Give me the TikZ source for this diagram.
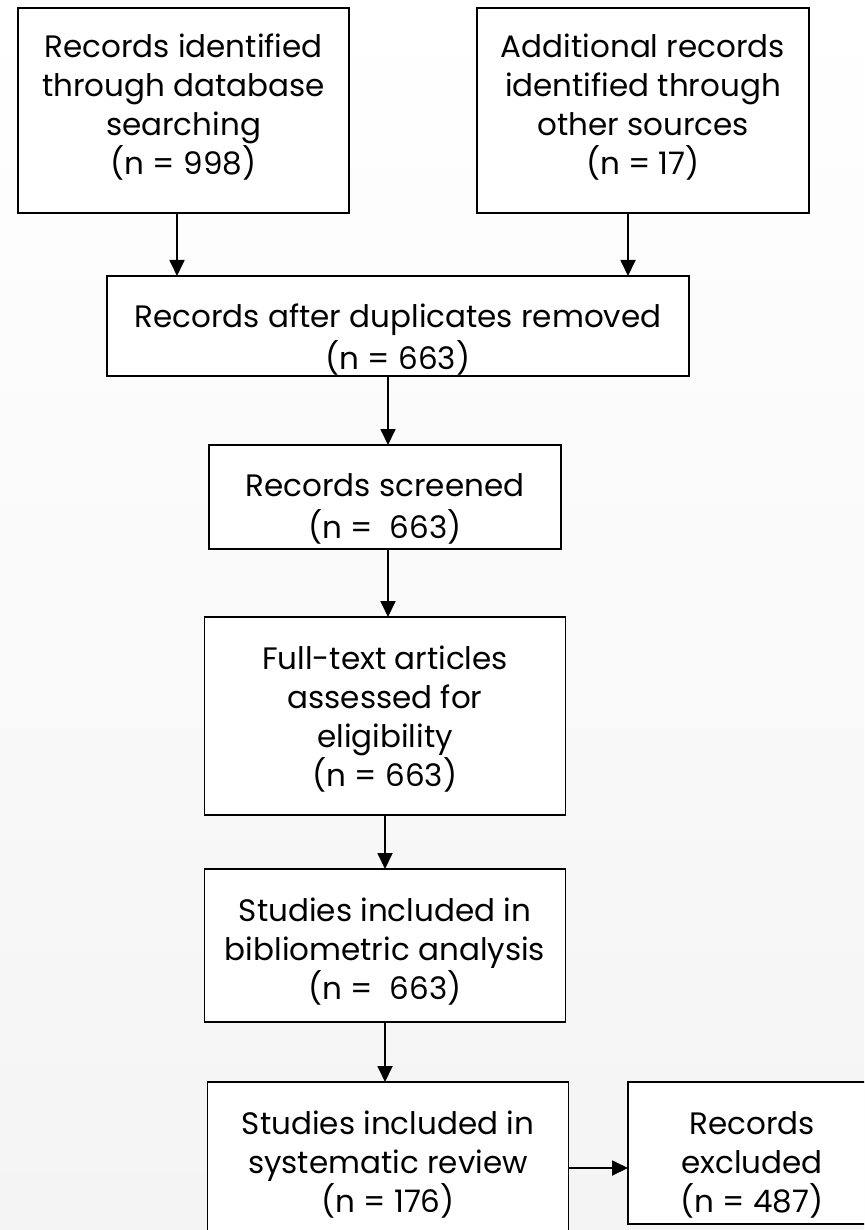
\documentclass[tikz,border=0pt]{standalone}
\usepackage{fontspec}
\setmainfont{Poppins}
\usetikzlibrary{arrows.meta,calc}
\definecolor{bgbot}{HTML}{F4F4F4}
\begin{document}
\begin{tikzpicture}[x=1pt,y=-1pt,
  box/.style={draw=black, line width=1.8pt, fill=white, inner sep=0pt, outer sep=0pt},
  txt/.style={anchor=north, inner sep=0pt, align=center,
    font=\fontsize{31}{39}\selectfont},
  arr/.style={line width=1.8pt, -{Triangle[length=16pt,width=15pt]}}]
\useasboundingbox (0,0) rectangle (864,1230);
\clip (0,0) rectangle (864,1230);
\shade[top color=white, bottom color=bgbot] (0,0) rectangle (864,1230);
\node[box, minimum width=331pt, minimum height=205pt] (A) at (183.5,110.5) {};
\node[txt] (At) at ([yshift=-22pt]A.north) {\strut Records identified\\through database\\searching\\(n = 998)};
\node[box, minimum width=332pt, minimum height=205pt] (B) at (643,110.5) {};
\node[txt] (Bt) at ([yshift=-22pt]B.north) {\strut Additional records\\identified through\\other sources\\(n = 17)};
\node[box, minimum width=582pt, minimum height=100pt] (C) at (398,326) {};
\node[txt] (Ct) at ([yshift=-24pt]C.north) {\strut Records after duplicates removed\\(n = 663)};
\node[box, minimum width=352pt, minimum height=104pt] (D) at (385,497) {};
\node[txt] (Dt) at ([yshift=-24pt]D.north) {\strut Records screened\\(n = \ 663)};
\node[box, minimum width=361pt, minimum height=198pt] (E) at (385,716) {};
\node[txt] (Et) at ([yshift=-25pt]E.north) {\strut Full-text articles\\assessed for\\eligibility\\(n = 663)};
\node[box, minimum width=361pt, minimum height=153pt] (F) at (385,945.5) {};
\node[txt] (Ft) at ([yshift=-25pt]F.north) {\strut Studies included in\\bibliometric analysis\\(n = \ 663)};
\node[box, minimum width=361pt, minimum height=158pt] (G) at (388,1161) {};
\node[txt] (Gt) at ([yshift=-25pt]G.north) {\strut Studies included in\\systematic review\\(n = 176)};
\node[box, minimum width=248pt, minimum height=142pt] (H) at (752,1153) {};
\node[txt] (Ht) at ([yshift=-25pt]H.north) {\strut Records\\excluded\\(n = 487)};
\draw[arr] ([xshift=-6.5pt]A.south) -- ([xshift=-6.5pt]A.south |- C.north);
\draw[arr] ([xshift=-15pt]B.south) -- ([xshift=-15pt]B.south |- C.north);
\draw[arr] ([xshift=-10pt]C.south) -- ([xshift=-10pt]C.south |- D.north);
\draw[arr] ([xshift=3pt]D.south) -- ([xshift=3pt]D.south |- E.north);
\draw[arr] (E.south) -- (E.south |- F.north);
\draw[arr] (F.south) -- (F.south |- G.north);
\draw[arr] ([yshift=-7pt]G.east) -- ([yshift=-7pt]G.east -| H.west);
\end{tikzpicture}
\end{document}
